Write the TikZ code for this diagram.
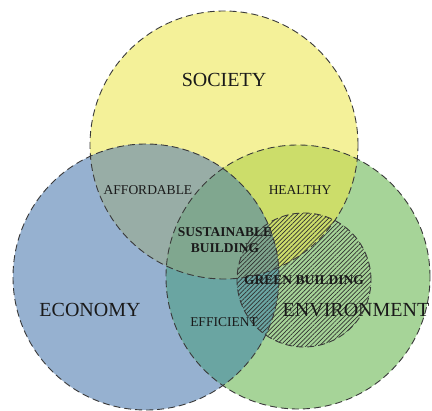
\documentclass[tikz,border=0pt]{standalone}
\usepackage{fontspec}
\setmainfont{Liberation Serif}
\usetikzlibrary{patterns.meta}
\definecolor{socfill}{HTML}{F4F199}
\definecolor{ecofill}{HTML}{96B1D0}
\definecolor{envfill}{HTML}{A6D498}
\definecolor{sefill}{HTML}{98ADA6}
\definecolor{svfill}{HTML}{CCDD6A}
\definecolor{evfill}{HTML}{6AA5A2}
\definecolor{allfill}{HTML}{80A78F}
\definecolor{rim}{HTML}{3A3A3A}
\definecolor{ink}{HTML}{1A1A1A}
\tikzset{
  rimline/.style={draw=rim, line width=0.9pt, dash pattern=on 7pt off 4pt},
  bigword/.style={text=ink, font=\fontsize{20}{22}\selectfont, inner sep=0pt},
  smallword/.style={text=ink, font=\fontsize{13.5}{15}\selectfont, inner sep=0pt},
  boldword/.style={text=ink, font=\fontsize{13.5}{15.5}\selectfont\bfseries, inner sep=0pt, align=center},
}
\newcommand{\socpath}{(224,145) circle[radius=134pt]}
\newcommand{\ecopath}{(146,277) circle[radius=133pt]}
\newcommand{\envpath}{(298,277) circle[radius=132pt]}
\newcommand{\grnpath}{(304,280) circle[radius=67pt]}
\begin{document}
\begin{tikzpicture}[x=1pt,y=-1pt]
\useasboundingbox (0,0) rectangle (432,411);
\fill[white] (0,0) rectangle (432,411);
% single-set regions
\fill[socfill] \socpath;
\fill[ecofill] \ecopath;
\fill[envfill] \envpath;
% pairwise overlaps
\begin{scope}
  \clip \socpath;
  \fill[sefill] \ecopath;
  \fill[svfill] \envpath;
\end{scope}
\begin{scope}
  \clip \ecopath;
  \fill[evfill] \envpath;
\end{scope}
% triple overlap
\begin{scope}
  \clip \socpath;
  \clip \ecopath;
  \fill[allfill] \envpath;
\end{scope}
% green building, hatched
\fill[pattern={Lines[angle=45,distance=3.1pt,line width=0.7pt]}, pattern color=ink!90] \grnpath;
% dashed outlines
\draw[rimline] \socpath;
\draw[rimline] \ecopath;
\draw[rimline] \envpath;
\draw[rimline] \grnpath;
% labels
\node[bigword] (society) at (224,80) {SOCIETY};
\node[bigword] (economy) at (90,310) {ECONOMY};
\node[bigword] (environment) at (356,310) {ENVIRONMENT};
\node[smallword] (affordable) at (148,190) {AFFORDABLE};
\node[smallword] (healthy) at (300,190) {HEALTHY};
\node[smallword] (efficient) at (224,322) {EFFICIENT};
\node[boldword] (sustainable) at (225,240) {SUSTAINABLE\\BUILDING};
\node[boldword] (green) at (304,280) {GREEN BUILDING};
\end{tikzpicture}
\end{document}
